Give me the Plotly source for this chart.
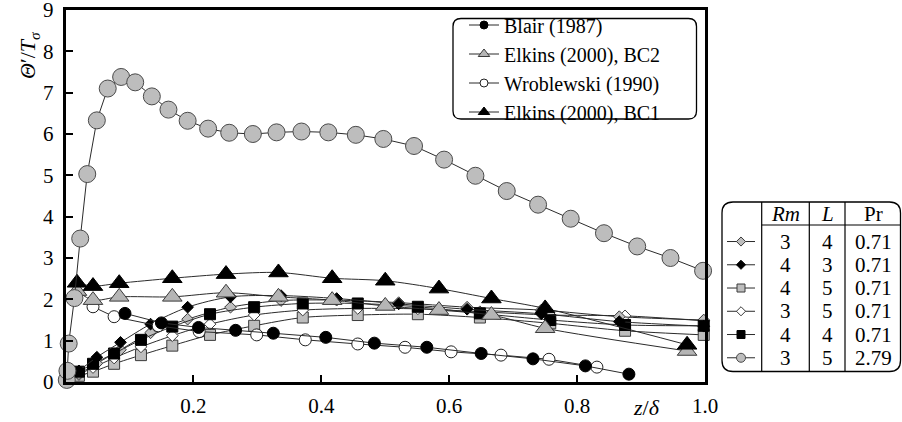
import plotly.graph_objects as go

W, H = 902, 422
FONT = "'Liberation Serif', 'DejaVu Serif', serif"

# ---------------- data ----------------
big_x = [0.002, 0.003, 0.005, 0.014, 0.023, 0.034, 0.049, 0.066, 0.087, 0.109, 0.135, 0.161,
         0.191, 0.223, 0.256, 0.293, 0.330, 0.369, 0.411, 0.454, 0.497, 0.545, 0.592, 0.641,
         0.690, 0.739, 0.790, 0.842, 0.894, 0.946, 0.997]
big_y = [0.05, 0.27, 0.93, 2.03, 3.47, 5.03, 6.33, 7.10, 7.38, 7.25, 6.91, 6.59,
         6.32, 6.13, 6.03, 6.00, 6.04, 6.06, 6.04, 5.98, 5.88, 5.71, 5.38, 4.99,
         4.62, 4.29, 3.95, 3.60, 3.28, 3.00, 2.69]

diam_x = [0.021, 0.049, 0.086, 0.133, 0.191, 0.258, 0.337, 0.424, 0.521, 0.628, 0.744, 0.866, 0.998]
bdiam_y = [0.27, 0.60, 0.96, 1.40, 1.81, 2.06, 2.09, 2.02, 1.89, 1.76, 1.65, 1.46, 1.35]
gdiam_y = [0.20, 0.45, 0.78, 1.19, 1.52, 1.81, 1.97, 1.98, 1.92, 1.81, 1.74, 1.58, 1.50]

sq_x = [0.021, 0.043, 0.076, 0.118, 0.167, 0.226, 0.295, 0.371, 0.457, 0.551, 0.648, 0.758, 0.875, 0.998]
bsq_y = [0.25, 0.44, 0.69, 1.02, 1.34, 1.64, 1.81, 1.90, 1.90, 1.82, 1.66, 1.50, 1.38, 1.36]
gsq_y = [0.15, 0.25, 0.44, 0.65, 0.88, 1.14, 1.36, 1.56, 1.62, 1.64, 1.56, 1.42, 1.24, 1.14]
wdiam_y = [0.18, 0.35, 0.58, 0.85, 1.12, 1.40, 1.62, 1.74, 1.78, 1.77, 1.70, 1.62, 1.60, 1.48]

tri_x = [0.018, 0.043, 0.084, 0.167, 0.251, 0.333, 0.417, 0.500, 0.584, 0.666, 0.750, 0.972]
bc1_y = [2.40, 2.32, 2.39, 2.51, 2.61, 2.65, 2.51, 2.45, 2.26, 2.02, 1.78, 0.90]
bc2_y = [2.20, 1.98, 2.06, 2.06, 2.16, 2.06, 1.98, 1.84, 1.74, 1.62, 1.30, 0.75]

blair_x = [0.093, 0.150, 0.208, 0.266, 0.325, 0.407, 0.483, 0.565, 0.650, 0.731, 0.813, 0.881]
blair_y = [1.66, 1.43, 1.32, 1.25, 1.18, 1.08, 0.94, 0.84, 0.69, 0.56, 0.39, 0.19]

wrob_x = [0.043, 0.076, 0.145, 0.209, 0.299, 0.375, 0.457, 0.531, 0.603, 0.681, 0.756, 0.831]
wrob_y = [1.82, 1.58, 1.36, 1.22, 1.14, 1.02, 0.92, 0.84, 0.73, 0.65, 0.55, 0.36]

legend_names = ["Blair (1987)", "Elkins (2000), BC2", "Wroblewski (1990)", "Elkins (2000), BC1"]

table_rm = ["3", "4", "4", "3", "4", "3"]
table_L = ["4", "3", "5", "5", "4", "5"]
table_pr = ["0.71", "0.71", "0.71", "0.71", "0.71", "2.79"]

x_ticks = [0.2, 0.4, 0.6, 0.8, 1.0]
y_ticks = [0, 1, 2, 3, 4, 5, 6, 7, 8, 9]

# ---------------- styles ----------------
LINE = dict(color="#2b2b2b", width=1)
GRAY = "#bdbdbd"
EDGE = "#3a3a3a"

styles = {
    "gsq": dict(symbol="square", size=11, color=GRAY, line=dict(color=EDGE, width=1)),
    "wdiam": dict(symbol="diamond", size=9, color="white", line=dict(color=EDGE, width=1)),
    "gdiam": dict(symbol="diamond", size=9, color=GRAY, line=dict(color=EDGE, width=1)),
    "bsq": dict(symbol="square", size=11, color="black", line=dict(color="black", width=1)),
    "bdiam": dict(symbol="diamond", size=9, color="black", line=dict(color="black", width=1)),
    "wrob": dict(symbol="circle", size=12, color="white", line=dict(color="#222", width=1)),
    "blair": dict(symbol="circle", size=12, color="black", line=dict(color="black", width=1)),
    "bc2": dict(symbol="triangle-up", size=17, color="#b5b5b5", line=dict(color=EDGE, width=1)),
    "bc1": dict(symbol="triangle-up", size=17, color="black", line=dict(color="black", width=1)),
    "big": dict(symbol="circle", size=17, color=GRAY, line=dict(color="#4a4a4a", width=1)),
}

fig = go.Figure()

def add(x, y, key, spline=False):
    fig.add_trace(go.Scatter(
        x=x, y=y, mode="lines+markers", marker=styles[key],
        line=dict(**LINE, shape="spline" if spline else "linear", smoothing=0.8 if spline else None),
        showlegend=False, cliponaxis=False, hoverinfo="skip"))

add(sq_x, gsq_y, "gsq", True)
add(sq_x, wdiam_y, "wdiam", True)
add(diam_x, gdiam_y, "gdiam", True)
add(sq_x, bsq_y, "bsq", True)
add(diam_x, bdiam_y, "bdiam", True)
add(wrob_x, wrob_y, "wrob")
add(blair_x, blair_y, "blair")
add(tri_x, bc2_y, "bc2", True)
add(tri_x, bc1_y, "bc1", True)
add(big_x, big_y, "big")

# legend-only entries with small symbols
leg_keys = ["blair", "bc2", "wrob", "bc1"]
for name, key in zip(legend_names, leg_keys):
    st = dict(styles[key])
    st["size"] = 8 if key in ("blair", "wrob") else 10
    fig.add_trace(go.Scatter(x=[None], y=[None], mode="lines+markers", name=name,
                             marker=st, line=dict(color="#2b2b2b", width=1)))

# ---------------- table (own axes) ----------------
rows = list(range(len(table_rm)))
table_keys = ["gdiam", "bdiam", "gsq", "wdiam", "bsq", "big"]
for i, key in zip(rows, table_keys):
    st = dict(styles[key])
    st["size"] = {"gdiam": 7, "bdiam": 7, "wdiam": 7, "gsq": 8, "bsq": 8, "big": 9}[key]
    fig.add_trace(go.Scatter(x=[727, 755], y=[i, i], mode="lines", line=dict(color="#2b2b2b", width=1),
                             xaxis="x2", yaxis="y2", showlegend=False, hoverinfo="skip"))
    fig.add_trace(go.Scatter(x=[741], y=[i], mode="markers", marker=st,
                             xaxis="x2", yaxis="y2", showlegend=False, hoverinfo="skip", cliponaxis=False))

annotations = []
col_rm, col_L, col_pr = 785.5, 827, 873
for i in rows:
    for cx, txt in ((col_rm, table_rm[i]), (col_L, table_L[i]), (col_pr, table_pr[i])):
        annotations.append(dict(x=cx, y=i, xref="x2", yref="y2", text=txt, showarrow=False,
                                font=dict(family=FONT, size=21, color="black"),
                                xanchor="center", yanchor="middle"))
for cx, txt in ((col_rm, "<i>Rm</i>"), (col_L, "<i>L</i>"), (col_pr, "Pr")):
    annotations.append(dict(x=cx, y=-1.18, xref="x2", yref="y2", text=txt, showarrow=False,
                            font=dict(family=FONT, size=21, color="black"),
                            xanchor="center", yanchor="middle"))

def px(x):
    return x / W

def py(y):
    return 1 - y / H

# axis titles
annotations.append(dict(x=px(29), y=py(55), xref="paper", yref="paper",
                        xanchor="center", yanchor="middle",
                        text="<i>Θ</i>′/<i>T</i><sub><i>σ</i></sub>", textangle=-90, showarrow=False,
                        font=dict(family=FONT, size=22, color="black")))
annotations.append(dict(x=px(646), y=py(407), xref="paper", yref="paper",
                        xanchor="center", yanchor="middle",
                        text="<i>z</i>/<i>δ</i>", showarrow=False,
                        font=dict(family=FONT, size=22, color="black")))

def rounded(x0, y0, x1, y1, r):
    rx, ry = r / W, r / H
    X0, X1 = px(x0), px(x1)
    Y0, Y1 = py(y0), py(y1)  # Y0 top (larger), Y1 bottom
    return (f"M {X0+rx},{Y0} L {X1-rx},{Y0} Q {X1},{Y0} {X1},{Y0-ry} "
            f"L {X1},{Y1+ry} Q {X1},{Y1} {X1-rx},{Y1} L {X0+rx},{Y1} Q {X0},{Y1} {X0},{Y1+ry} "
            f"L {X0},{Y0-ry} Q {X0},{Y0} {X0+rx},{Y0} Z")

shapes = [
    dict(type="path", path=rounded(453, 18.5, 696.5, 119, 8), xref="paper", yref="paper",
         line=dict(color="black", width=1.3)),
    dict(type="path", path=rounded(722, 202, 900.5, 371.5, 11), xref="paper", yref="paper",
         line=dict(color="black", width=1.3)),
]
for vx in (761.7, 809.3, 845):
    shapes.append(dict(type="line", x0=px(vx), x1=px(vx), y0=py(202), y1=py(371.5),
                       xref="paper", yref="paper", line=dict(color="black", width=1.2)))
shapes.append(dict(type="line", x0=px(761.7), x1=px(900.5), y0=py(225), y1=py(225),
                   xref="paper", yref="paper", line=dict(color="black", width=1.2)))

ax_common = dict(showline=True, linewidth=2.5, linecolor="black", mirror=True, ticks="inside",
                 tickcolor="black", tickwidth=1.5, showgrid=False, zeroline=False, automargin=False,
                 ticklabeloverflow="allow",
                 tickfont=dict(family=FONT, size=21, color="black"))

fig.update_layout(
    template="none",
    width=W, height=H, margin=dict(l=0, r=0, t=0, b=0, pad=0),
    paper_bgcolor="white", plot_bgcolor="white",
    xaxis=dict(domain=[65.5 / W, 705 / W], range=[0, 1], tickvals=x_ticks,
               ticktext=[f"{v:.1f}" for v in x_ticks], ticklen=7, ticklabelstandoff=3, **ax_common),
    yaxis=dict(domain=[1 - 382 / H, 1 - 10 / H], range=[0, 9], tickvals=y_ticks, ticklen=8,
               ticklabelstandoff=5, **ax_common),
    xaxis2=dict(domain=[722 / W, 1.0], range=[722, 902], visible=False, anchor="y2", automargin=False),
    yaxis2=dict(domain=[1 - 371.5 / H, 1 - 202 / H], range=[5.59, -1.70], visible=False, anchor="x2",
                automargin=False),
    legend=dict(x=px(464), y=py(5.5), xanchor="left", yanchor="top", bgcolor="rgba(0,0,0,0)",
                borderwidth=0, font=dict(family=FONT, size=20, color="black"), itemsizing="trace",
                tracegroupgap=0),
    annotations=annotations, shapes=shapes,
)

fig.write_html("out.html", config={"displayModeBar": False},
               post_script="document.body.style.margin='0';document.body.style.padding='0';")
